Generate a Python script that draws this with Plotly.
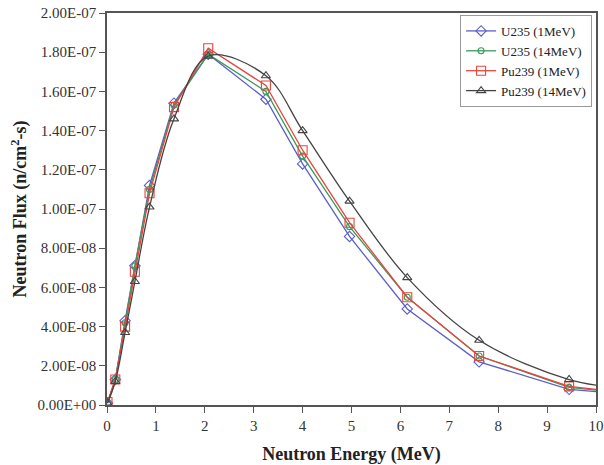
import plotly.graph_objects as go

energy = [0.01, 0.17, 0.37, 0.57, 0.87, 1.37, 2.07, 3.25, 4.0, 4.96, 6.14, 7.61, 9.45, 10.6]
u235_1 = [1.0e-9, 1.3e-8, 4.3e-8, 7.1e-8, 1.12e-7, 1.54e-7, 1.79e-7, 1.56e-7, 1.23e-7, 8.6e-8, 4.9e-8, 2.2e-8, 8.0e-9, 5.5e-9]
u235_14 = [1.0e-9, 1.3e-8, 4.2e-8, 7.1e-8, 1.10e-7, 1.53e-7, 1.79e-7, 1.60e-7, 1.27e-7, 9.1e-8, 5.5e-8, 2.5e-8, 9.0e-9, 6.0e-9]
pu239_1 = [1.5e-9, 1.3e-8, 4.0e-8, 6.8e-8, 1.08e-7, 1.52e-7, 1.82e-7, 1.63e-7, 1.30e-7, 9.3e-8, 5.5e-8, 2.5e-8, 9.5e-9, 6.3e-9]
pu239_14 = [1.0e-9, 1.2e-8, 3.7e-8, 6.3e-8, 1.01e-7, 1.46e-7, 1.78e-7, 1.68e-7, 1.40e-7, 1.04e-7, 6.5e-8, 3.3e-8, 1.3e-8, 8.5e-9]

names = ["U235 (1MeV)", "U235 (14MeV)", "Pu239 (1MeV)", "Pu239 (14MeV)"]
colors = ["#5b5fc7", "#3a9a5a", "#e8453c", "#444444"]
symbols = ["diamond-open", "circle-open", "square-open", "triangle-up-open"]
sizes = [8, 6, 9, 8]
shapes = ["linear", "linear", "linear", "spline"]
series = [u235_1, u235_14, pu239_1, pu239_14]

y_ticks = [i * 2e-8 for i in range(11)]
y_labels = ["0.00E+00", "2.00E-08", "4.00E-08", "6.00E-08", "8.00E-08", "1.00E-07",
            "1.20E-07", "1.40E-07", "1.60E-07", "1.80E-07", "2.00E-07"]

fig = go.Figure()
for n, c, s, sz, sh, y in zip(names, colors, symbols, sizes, shapes, series):
    fig.add_trace(go.Scatter(
        x=energy, y=y, name=n, mode="lines+markers",
        line=dict(color=c, width=1.3, shape=sh),
        marker=dict(symbol=s, size=sz, color=c, line=dict(width=1.1, color=c)),
    ))

font = "Liberation Serif"
fig.update_layout(
    width=604, height=465,
    margin=dict(l=107, r=8, t=13, b=60, autoexpand=False),
    paper_bgcolor="white", plot_bgcolor="white",
    font=dict(family=font, size=15, color="#333333"),
    showlegend=True,
    legend=dict(x=0.992, y=0.995, xanchor="right", yanchor="top",
                bordercolor="#999999", borderwidth=1, bgcolor="white",
                font=dict(family=font, size=13, color="#222222"),
                tracegroupgap=0, itemwidth=30),
    xaxis=dict(range=[0, 10], tickmode="array", tickvals=list(range(11)),
               ticks="outside", ticklen=6, tickcolor="#555555",
               showline=True, linecolor="#555555", linewidth=1.5, mirror=True,
               showgrid=False, zeroline=False, automargin=False,
               title=dict(text="<b>Neutron Energy (MeV)</b>", font=dict(family=font, size=18, color="#222222"), standoff=16)),
    yaxis=dict(range=[0, 2e-7], tickmode="array", tickvals=y_ticks, ticktext=y_labels,
               ticks="outside", ticklen=6, tickcolor="#555555",
               showline=True, linecolor="#555555", linewidth=1.5, mirror=True,
               showgrid=False, zeroline=False, automargin=False,
               title=dict(text="<b>Neutron Flux (n/cm<sup>2</sup>-s)</b>", font=dict(family=font, size=18, color="#222222"), standoff=6)),
)

fig.write_html("out.html", config={"displayModeBar": False},
               post_script="document.body.style.margin='0';")
